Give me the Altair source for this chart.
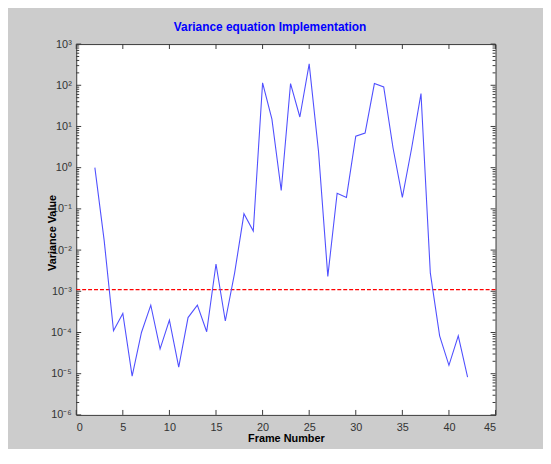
import altair as alt
import pandas as pd

# ---- data ----
frames = list(range(2, 43))
variance = [
    1.0, 0.017, 1.1e-4, 2.9e-4, 8.7e-6, 1.0e-4, 4.6e-4, 4.0e-5, 2.0e-4, 1.45e-5,
    2.3e-4, 4.6e-4, 1.04e-4, 4.6e-3, 1.9e-4, 2.8e-3, 0.076, 0.029, 115, 15,
    0.28, 110, 17, 330, 2.5, 2.3e-3, 0.24, 0.19, 5.8, 6.9,
    110, 91, 3.0, 0.19, 3.0, 63, 2.8e-3, 8.3e-5, 1.6e-5, 8.3e-5,
    8.3e-6,
]
threshold = [1.1e-3]
x_ticks = [0, 5, 10, 15, 20, 25, 30, 35, 40, 45]
y_decades = [1e-6, 1e-5, 1e-4, 1e-3, 1e-2, 1e-1, 1e0, 1e1, 1e2, 1e3]
y_minor = [m * d for d in y_decades[:-1] for m in range(2, 10)]

title_text = "Variance equation Implementation"
x_title = "Frame Number"
y_title = "Variance Value"

# ---- styling ----
W, H = 424, 375
FONT = "Liberation Sans Narrow, Liberation Sans, Arial, sans-serif"
FRAME = "#3a3a3a"
LABEL = "#333333"

df = pd.DataFrame({"frame": frames, "variance": variance})
thr_df = pd.DataFrame({"variance": threshold})
ymaj_df = pd.DataFrame({"variance": y_decades})
ymin_df = pd.DataFrame({"variance": y_minor})
xt_df = pd.DataFrame({"frame": x_ticks})

x_scale = alt.Scale(domain=[0, 45], nice=False, zero=False)
y_scale = alt.Scale(type="log", domain=[1e-6, 1e3], nice=False)

sup = "⁰¹²³⁴⁵⁶⁷⁸⁹"
e = "round(log(datum.value)/LN10)"
y_label_expr = (
    f"'10' + ({e} < 0 ? '⁻' : '') + substring('{sup}', abs({e}), abs({e}) + 1)"
)

x_axis = alt.Axis(
    values=x_ticks, title=x_title, ticks=False, domain=False, grid=False,
    format="d", labelFont=FONT, labelFontSize=11, labelColor=LABEL,
    labelPadding=7, titleFont=FONT, titleFontSize=11, titleFontWeight="bold",
    titleColor="black", titleX=W / 2, titleY=24, titleAlign="center",
    titleBaseline="middle",
)
y_axis = alt.Axis(
    values=y_decades, title=y_title, ticks=False, domain=False, grid=False,
    labelExpr=y_label_expr, labelFont=FONT, labelFontSize=11,
    labelColor=LABEL, labelPadding=5, titleFont=FONT, titleFontSize=11,
    titleFontWeight="bold", titleColor="black", titleX=-24, titleY=H / 2 + 3,
    titleAlign="center", titleBaseline="middle", titleAngle=270,
)

X = lambda: alt.X("frame:Q", scale=x_scale, axis=x_axis)
Y = lambda: alt.Y("variance:Q", scale=y_scale, axis=y_axis)

line = alt.Chart(df).mark_line(color="#5050ff", strokeWidth=1.1, clip=True).encode(
    x=X(), y=Y()
)
thr = alt.Chart(thr_df).mark_rule(color="#ff0000", strokeDash=[4, 2], strokeWidth=1.4).encode(
    y=Y()
)

def yticks(data, length):
    left = alt.Chart(data).mark_rule(color=FRAME, strokeWidth=1).encode(
        y=Y(), x=alt.value(0), x2=alt.value(length)
    )
    right = alt.Chart(data).mark_rule(color=FRAME, strokeWidth=1).encode(
        y=Y(), x=alt.value(W), x2=alt.value(W - length)
    )
    return [left, right]

xt_bottom = alt.Chart(xt_df).mark_rule(color=FRAME, strokeWidth=1).encode(
    x=X(), y=alt.value(H), y2=alt.value(H - 5)
)
xt_top = alt.Chart(xt_df).mark_rule(color=FRAME, strokeWidth=1).encode(
    x=X(), y=alt.value(0), y2=alt.value(5)
)

chart = alt.layer(
    thr, line, *yticks(ymaj_df, 5), *yticks(ymin_df, 3), xt_bottom, xt_top
).properties(
    width=W,
    height=H,
    title=alt.TitleParams(
        text=title_text, color="#0000ff", font=FONT, fontSize=12,
        fontWeight="bold", anchor="middle", dx=-16, baseline="alphabetic",
        offset=-5,
    ),
    autosize=alt.AutoSizeParams(type="none"),
    padding={"left": 69, "top": 34, "right": 48, "bottom": 32},
    background="#cccccc",
).configure_view(stroke=FRAME, strokeWidth=1, fill="white")

chart.save("out.html", embed_options={"renderer": "svg", "actions": False})
